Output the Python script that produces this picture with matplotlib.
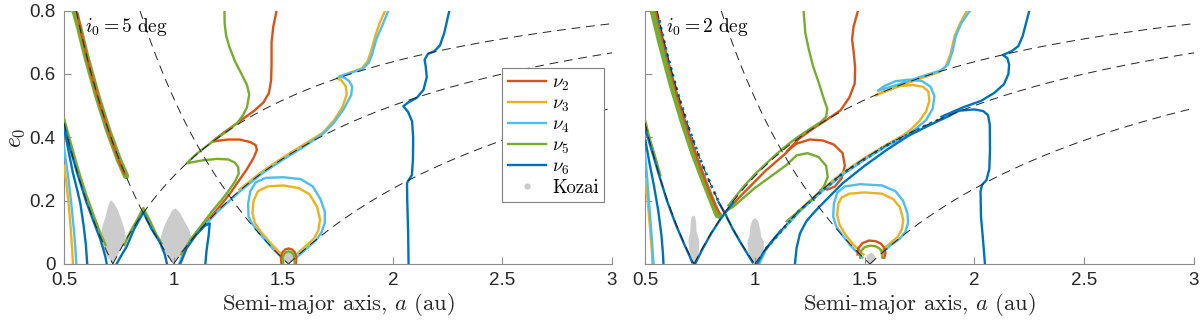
import numpy as np
import matplotlib.pyplot as plt
from matplotlib.lines import Line2D

plt.rcParams['font.family'] = ['Liberation Sans', 'DejaVu Sans']
plt.rcParams['mathtext.fontset'] = 'cm'

# planet semi-major axes (au): Venus, Earth, Mars
planets_a = [0.723, 1.0, 1.524]

# ---------------- i0 = 5 deg (left panel) ----------------
# Kozai regions (outline of the grey point clouds)
koz5_venus = ([0.723, 0.74, 0.76, 0.783, 0.776, 0.762, 0.746, 0.73, 0.714, 0.70, 0.69, 0.676, 0.664, 0.68, 0.70],
              [0.0, 0.02, 0.05, 0.08, 0.11, 0.14, 0.17, 0.19, 0.202, 0.18, 0.15, 0.12, 0.08, 0.05, 0.02])
koz5_earth = ([1.0, 1.03, 1.06, 1.082, 1.07, 1.05, 1.03, 1.01, 0.995, 0.975, 0.955, 0.938, 0.95, 0.97],
              [0.0, 0.025, 0.055, 0.082, 0.11, 0.135, 0.16, 0.176, 0.17, 0.145, 0.115, 0.076, 0.05, 0.025])
koz5_mars = ([1.524, 1.545, 1.55, 1.54, 1.525, 1.51, 1.505, 1.51],
             [0.0, 0.01, 0.025, 0.035, 0.038, 0.033, 0.02, 0.008])

nu2_5_band = ([0.562, 0.58, 0.62, 0.67, 0.72, 0.76, 0.776], [0.79, 0.725, 0.61, 0.49, 0.385, 0.31, 0.285])
nu2_5_main = ([1.04, 1.10, 1.16, 1.22, 1.26, 1.30, 1.335, 1.365, 1.38, 1.375, 1.35, 1.30, 1.25, 1.20, 1.175,
               1.22, 1.27, 1.32, 1.37, 1.41, 1.435, 1.445, 1.447, 1.447, 1.455, 1.47],
              [0.038, 0.09, 0.14, 0.19, 0.225, 0.265, 0.30, 0.335, 0.36, 0.375, 0.385, 0.393, 0.393, 0.389, 0.386,
               0.41, 0.435, 0.46, 0.485, 0.51, 0.54, 0.58, 0.63, 0.70, 0.75, 0.80])
nu2_5_cap = ([1.492, 1.49, 1.497, 1.51, 1.525, 1.54, 1.553, 1.56, 1.558], [0.0, 0.02, 0.037, 0.046, 0.049, 0.046, 0.037, 0.02, 0.0])

nu3_5_left = ([0.5, 0.51, 0.52, 0.53, 0.537, 0.541], [0.31, 0.26, 0.20, 0.12, 0.05, 0.0])
nu3_5_main = ([1.30, 1.40, 1.50, 1.60, 1.68, 1.73, 1.77, 1.79, 1.785, 1.765, 1.745, 1.80, 1.86, 1.885, 1.90, 1.92, 1.94, 1.965],
              [0.235, 0.29, 0.337, 0.38, 0.414, 0.452, 0.495, 0.535, 0.562, 0.58, 0.587, 0.603, 0.618, 0.64, 0.67, 0.72, 0.76, 0.80])
nu3_5_loop = ([1.50, 1.45, 1.40, 1.37, 1.36, 1.365, 1.385, 1.43, 1.50, 1.57, 1.62, 1.655, 1.668, 1.66, 1.64, 1.60, 1.56],
              [0.025, 0.06, 0.10, 0.13, 0.16, 0.20, 0.23, 0.245, 0.248, 0.24, 0.22, 0.18, 0.14, 0.105, 0.08, 0.055, 0.03])

nu4_5_left = ([0.5, 0.51, 0.52, 0.532, 0.545, 0.552, 0.556], [0.37, 0.32, 0.27, 0.20, 0.11, 0.05, 0.0])
nu4_5_main = ([1.025, 1.05, 1.10, 1.20, 1.30, 1.40, 1.50, 1.60, 1.68, 1.73, 1.775, 1.81, 1.815, 1.80, 1.78, 1.755,
               1.80, 1.86, 1.89, 1.905, 1.925, 1.95, 1.98],
              [0.0, 0.045, 0.09, 0.165, 0.228, 0.284, 0.33, 0.373, 0.41, 0.445, 0.488, 0.533, 0.56, 0.578, 0.588, 0.592,
               0.602, 0.615, 0.635, 0.66, 0.71, 0.75, 0.80])
nu4_5_loop = ([1.50, 1.45, 1.40, 1.36, 1.342, 1.34, 1.35, 1.375, 1.42, 1.50, 1.58, 1.635, 1.67, 1.69, 1.69, 1.675, 1.65, 1.60, 1.56],
              [0.015, 0.05, 0.09, 0.125, 0.15, 0.19, 0.23, 0.258, 0.272, 0.274, 0.268, 0.245, 0.205, 0.165, 0.13, 0.10, 0.075, 0.045, 0.02])

nu5_5_band = ([0.548, 0.57, 0.60, 0.65, 0.70, 0.75, 0.783], [0.80, 0.745, 0.66, 0.535, 0.425, 0.33, 0.278])
nu5_5_venus = ([0.5, 0.53, 0.56, 0.60, 0.64, 0.67, 0.69], [0.46, 0.385, 0.31, 0.222, 0.145, 0.09, 0.06])
nu5_5_peak = ([0.775, 0.80, 0.83, 0.862, 0.89, 0.92, 0.945], [0.06, 0.098, 0.135, 0.177, 0.14, 0.095, 0.065])
nu5_5_main = ([1.035, 1.08, 1.13, 1.18, 1.22, 1.255, 1.28, 1.297, 1.295, 1.28, 1.25, 1.20, 1.13, 1.06,
               1.10, 1.15, 1.20, 1.25, 1.29, 1.315, 1.335, 1.345, 1.335, 1.31, 1.28, 1.255, 1.24, 1.233, 1.232],
              [0.03, 0.08, 0.125, 0.17, 0.203, 0.235, 0.26, 0.285, 0.305, 0.32, 0.33, 0.332, 0.327, 0.318,
               0.345, 0.372, 0.398, 0.422, 0.445, 0.468, 0.495, 0.535, 0.565, 0.60, 0.64, 0.685, 0.72, 0.76, 0.80])
nu5_5_cap = ([1.50, 1.498, 1.505, 1.515, 1.525, 1.535, 1.547, 1.552, 1.552], [0.0, 0.02, 0.032, 0.038, 0.04, 0.038, 0.03, 0.018, 0.0])

nu6_5_steep = ([0.503, 0.52, 0.54, 0.56, 0.575, 0.59, 0.60, 0.606], [0.42, 0.36, 0.29, 0.235, 0.19, 0.12, 0.06, 0.0])
nu6_5_venus = ([0.5, 0.53, 0.56, 0.60, 0.64, 0.665, 0.68, 0.69, 0.695], [0.44, 0.36, 0.288, 0.2, 0.125, 0.08, 0.045, 0.02, 0.0])
nu6_5_peak = ([0.74, 0.76, 0.786, 0.82, 0.862, 0.90, 0.938, 0.96, 0.97], [0.0, 0.025, 0.055, 0.11, 0.163, 0.11, 0.068, 0.03, 0.0])
nu6_5_bump = ([1.03, 1.06, 1.10, 1.14, 1.165, 1.16, 1.15, 1.145], [0.0, 0.05, 0.09, 0.12, 0.128, 0.09, 0.04, 0.0])
nu6_5_right = ([2.072, 2.07, 2.066, 2.065, 2.075, 2.087, 2.092, 2.093, 2.088, 2.07, 2.048, 2.07, 2.11, 2.14, 2.155,
                2.15, 2.145, 2.16, 2.19, 2.215, 2.235, 2.258],
               [0.0, 0.1, 0.2, 0.255, 0.268, 0.28, 0.33, 0.40, 0.45, 0.48, 0.498, 0.51, 0.525, 0.55, 0.59,
                0.625, 0.645, 0.663, 0.672, 0.69, 0.73, 0.80])

# ---------------- i0 = 2 deg (right panel) ----------------
koz2_venus = ([0.723, 0.74, 0.747, 0.745, 0.735, 0.733, 0.728, 0.72, 0.712, 0.708, 0.706, 0.698, 0.70, 0.71],
              [0.0, 0.02, 0.05, 0.08, 0.10, 0.13, 0.15, 0.153, 0.148, 0.13, 0.10, 0.08, 0.05, 0.02])
koz2_earth = ([1.0, 1.02, 1.04, 1.042, 1.03, 1.024, 1.015, 1.003, 0.99, 0.98, 0.976, 0.966, 0.97, 0.985],
              [0.0, 0.02, 0.045, 0.07, 0.085, 0.11, 0.135, 0.145, 0.14, 0.12, 0.09, 0.07, 0.04, 0.015])
koz2_mars = ([1.53, 1.548, 1.55, 1.54, 1.53, 1.515, 1.508, 1.515], [0.0, 0.01, 0.022, 0.032, 0.035, 0.03, 0.018, 0.006])

nu2_2_band = ([0.55, 0.60, 0.65, 0.70, 0.75, 0.79, 0.82, 0.84], [0.80, 0.655, 0.525, 0.41, 0.31, 0.235, 0.185, 0.16])
nu2_2_low = ([0.88, 0.95, 1.0, 1.05, 1.10, 1.145], [0.175, 0.225, 0.26, 0.295, 0.325, 0.352])
nu2_2_main = ([1.33, 1.365, 1.395, 1.41, 1.40, 1.36, 1.31, 1.25, 1.19, 1.145, 1.20, 1.26, 1.32, 1.39, 1.43, 1.455,
               1.457, 1.45, 1.443, 1.45, 1.47],
              [0.235, 0.245, 0.27, 0.31, 0.35, 0.377, 0.39, 0.393, 0.38, 0.355, 0.395, 0.425, 0.452, 0.485, 0.525, 0.57,
               0.62, 0.67, 0.71, 0.75, 0.80])
nu2_2_cap = ([1.468, 1.472, 1.49, 1.52, 1.55, 1.575, 1.59, 1.595, 1.59], [0.03, 0.05, 0.066, 0.074, 0.072, 0.064, 0.05, 0.035, 0.02])

nu3_2_left = ([0.5, 0.512, 0.522, 0.53, 0.534], [0.27, 0.2, 0.12, 0.05, 0.0])
nu3_2_main = ([1.30, 1.40, 1.50, 1.60, 1.665, 1.71, 1.75, 1.78, 1.795, 1.79, 1.765, 1.72, 1.66, 1.61, 1.57, 1.55,
               1.65, 1.75, 1.84, 1.87, 1.89, 1.91, 1.935, 1.966],
              [0.233, 0.288, 0.335, 0.377, 0.402, 0.424, 0.452, 0.482, 0.515, 0.545, 0.56, 0.565, 0.562, 0.55, 0.54, 0.532,
               0.56, 0.585, 0.606, 0.625, 0.66, 0.72, 0.76, 0.80])
nu3_2_loop = ([1.495, 1.45, 1.41, 1.385, 1.375, 1.38, 1.395, 1.43, 1.50, 1.58, 1.63, 1.66, 1.676, 1.67, 1.65, 1.61, 1.575],
              [0.03, 0.06, 0.095, 0.125, 0.155, 0.19, 0.21, 0.222, 0.226, 0.222, 0.205, 0.18, 0.14, 0.11, 0.085, 0.062, 0.04])

nu4_2_left = ([0.5, 0.51, 0.52, 0.53, 0.536, 0.539], [0.35, 0.27, 0.18, 0.09, 0.03, 0.0])
nu4_2_main = ([1.02, 1.05, 1.10, 1.20, 1.30, 1.40, 1.50, 1.60, 1.68, 1.73, 1.78, 1.81, 1.818, 1.80, 1.76, 1.70, 1.64,
               1.59, 1.56, 1.65, 1.75, 1.85, 1.88, 1.90, 1.915, 1.94, 1.98],
              [0.0, 0.045, 0.088, 0.163, 0.226, 0.282, 0.33, 0.372, 0.402, 0.425, 0.455, 0.49, 0.53, 0.56, 0.578, 0.582, 0.577,
               0.562, 0.547, 0.566, 0.59, 0.612, 0.63, 0.67, 0.72, 0.76, 0.80])
nu4_2_loop = ([1.49, 1.44, 1.40, 1.37, 1.357, 1.36, 1.375, 1.41, 1.48, 1.58, 1.64, 1.675, 1.695, 1.698, 1.685, 1.66, 1.62, 1.58],
              [0.02, 0.055, 0.09, 0.12, 0.15, 0.19, 0.225, 0.245, 0.252, 0.248, 0.23, 0.20, 0.16, 0.13, 0.10, 0.08, 0.06, 0.035])

nu5_2_band = ([0.535, 0.57, 0.62, 0.67, 0.72, 0.77, 0.81, 0.83, 0.84], [0.80, 0.70, 0.57, 0.455, 0.35, 0.26, 0.19, 0.155, 0.152])
nu5_2_venus = ([0.5, 0.52, 0.55, 0.57], [0.455, 0.40, 0.33, 0.28])
nu5_2_upper = ([0.88, 0.95, 1.0, 1.05, 1.10, 1.15, 1.20, 1.25, 1.30, 1.325, 1.33, 1.315, 1.29, 1.265, 1.245, 1.23, 1.222],
               [0.185, 0.245, 0.283, 0.316, 0.348, 0.377, 0.403, 0.426, 0.448, 0.465, 0.49, 0.52, 0.575, 0.625, 0.68, 0.73, 0.80])
nu5_2_lower = ([0.875, 0.90, 0.95, 1.0, 1.05, 1.10, 1.145, 1.19, 1.24, 1.29, 1.325, 1.332, 1.315, 1.29, 1.26, 1.22, 1.18, 1.145],
               [0.17, 0.18, 0.21, 0.24, 0.265, 0.29, 0.313, 0.343, 0.35, 0.338, 0.31, 0.275, 0.245, 0.225, 0.205, 0.18, 0.155, 0.135])
nu5_2_cap = ([1.48, 1.482, 1.50, 1.525, 1.55, 1.57, 1.582, 1.58], [0.02, 0.04, 0.053, 0.058, 0.056, 0.048, 0.035, 0.02])

nu6_2_steep = ([0.502, 0.52, 0.54, 0.56, 0.575, 0.582, 0.584], [0.39, 0.32, 0.25, 0.17, 0.09, 0.03, 0.0])
nu6_2_venus = ([0.5, 0.53, 0.56, 0.60, 0.64, 0.68, 0.70, 0.715], [0.43, 0.36, 0.29, 0.2, 0.125, 0.06, 0.03, 0.005])
nu6_2_x1 = ([0.728, 0.76, 0.80, 0.84, 0.862, 0.88, 0.90], [0.0, 0.045, 0.095, 0.138, 0.159, 0.175, 0.193])
nu6_2_x2 = ([0.835, 0.862, 0.90, 0.94, 0.97, 0.99], [0.195, 0.163, 0.11, 0.062, 0.028, 0.005])
nu6_2_earth = ([1.01, 1.04, 1.08, 1.12], [0.0, 0.038, 0.074, 0.107])
nu6_2_low = ([1.183, 1.19, 1.206, 1.235, 1.266, 1.30, 1.35, 1.40, 1.50, 1.60, 1.70, 1.80, 1.88, 1.93, 2.0, 2.04, 2.062,
              2.07, 2.071, 2.068, 2.055, 2.035, 2.028, 2.03, 2.04, 2.048],
             [0.0, 0.05, 0.097, 0.135, 0.16, 0.185, 0.22, 0.255, 0.31, 0.36, 0.405, 0.44, 0.466, 0.484, 0.488, 0.483, 0.47,
              0.44, 0.36, 0.30, 0.265, 0.25, 0.23, 0.15, 0.07, 0.0])
nu6_2_upper = ([1.85, 1.95, 2.03, 2.09, 2.135, 2.155, 2.158, 2.15, 2.13, 2.17, 2.2, 2.22, 2.235, 2.25],
               [0.465, 0.495, 0.515, 0.54, 0.568, 0.6, 0.63, 0.65, 0.66, 0.672, 0.688, 0.72, 0.76, 0.80])
nu6_2_dots_band = ([0.565, 0.60, 0.65, 0.70, 0.75, 0.80, 0.835], [0.77, 0.665, 0.538, 0.428, 0.333, 0.25, 0.197])
nu6_2_dots_earth = ([1.05, 1.2, 1.4, 1.6, 1.8, 1.9], [0.048, 0.167, 0.286, 0.375, 0.444, 0.474])

c_nu2 = '#D95319'
c_nu3 = '#EDB120'
c_nu4 = '#4DBEEE'
c_nu5 = '#77AC30'
c_nu6 = '#0072BD'
c_koz = '#cccccc'
axcol = '#8c8c8c'
txtcol = '#262626'

panels = [
    dict(title=r'$i_0 = 5\ \mathrm{deg}$', kozai=[koz5_venus, koz5_earth, koz5_mars],
         thick=[(nu5_5_band, c_nu5, 4.5)],
         lines=[(nu2_5_band, c_nu2), (nu2_5_main, c_nu2), (nu3_5_left, c_nu3), (nu3_5_main, c_nu3),
                (nu3_5_loop, c_nu3), (nu4_5_left, c_nu4), (nu4_5_main, c_nu4), (nu4_5_loop, c_nu4),
                (nu5_5_venus, c_nu5), (nu5_5_peak, c_nu5), (nu5_5_main, c_nu5),
                (nu6_5_steep, c_nu6), (nu6_5_venus, c_nu6), (nu6_5_peak, c_nu6), (nu6_5_bump, c_nu6),
                (nu6_5_right, c_nu6), (nu2_5_cap, c_nu2), (nu5_5_cap, c_nu5)],
         dotted=[]),
    dict(title=r'$i_0 = 2\ \mathrm{deg}$', kozai=[koz2_venus, koz2_earth, koz2_mars],
         thick=[(nu5_2_band, c_nu5, 4.5)],
         lines=[(nu2_2_band, c_nu2), (nu2_2_low, c_nu2), (nu2_2_main, c_nu2), (nu3_2_left, c_nu3),
                (nu3_2_main, c_nu3), (nu3_2_loop, c_nu3), (nu4_2_left, c_nu4), (nu4_2_main, c_nu4),
                (nu4_2_loop, c_nu4), (nu5_2_venus, c_nu5), (nu5_2_upper, c_nu5), (nu5_2_lower, c_nu5),
                (nu6_2_steep, c_nu6), (nu6_2_venus, c_nu6), (nu6_2_x1, c_nu6), (nu6_2_x2, c_nu6),
                (nu6_2_earth, c_nu6), (nu6_2_low, c_nu6), (nu6_2_upper, c_nu6),
                (nu2_2_cap, c_nu2), (nu5_2_cap, c_nu5)],
         dotted=[(nu6_2_dots_band, c_nu6), (nu6_2_dots_earth, c_nu6)]),
]

fig = plt.figure(figsize=(12, 3.24), dpi=100)
axes = [fig.add_axes([0.0533, 0.1852, 0.4567, 0.782]), fig.add_axes([0.5375, 0.1852, 0.4575, 0.782])]

for ax, p in zip(axes, panels):
    for k in p['kozai']:
        ax.fill(k[0], k[1], color=c_koz, lw=0, zorder=1)
    for (xy, col, lw) in p['thick']:
        ax.plot(xy[0], xy[1], color=col, lw=lw, solid_capstyle='round', zorder=2)
    for (xy, col) in p['lines']:
        ax.plot(xy[0], xy[1], color=col, lw=1.7, zorder=3)
    for (xy, col) in p['dotted']:
        ax.plot(xy[0], xy[1], color=col, lw=2, ls=(0, (1, 1.5)), zorder=3)
    # orbit-crossing curves: aphelion / perihelion equal to a planet's orbit
    for ap in planets_a:
        a_in = np.linspace(max(0.5, ap / 1.8), ap, 200)
        ax.plot(a_in, ap / a_in - 1, color='#222222', lw=0.7, dashes=(9, 6), zorder=4)
        a_out = np.linspace(ap, 3, 300)
        ax.plot(a_out, 1 - ap / a_out, color='#222222', lw=0.7, dashes=(9, 6), zorder=4)
    ax.set_xlim(0.5, 3)
    ax.set_ylim(0, 0.8)
    ax.set_xticks([0.5, 1, 1.5, 2, 2.5, 3])
    ax.set_xticklabels(['0.5', '1', '1.5', '2', '2.5', '3'])
    ax.set_yticks([0, 0.2, 0.4, 0.6, 0.8])
    for s in ['top', 'right']:
        ax.spines[s].set_visible(False)
    for s in ['left', 'bottom']:
        ax.spines[s].set_color(axcol)
        ax.spines[s].set_linewidth(0.8)
    ax.tick_params(direction='in', length=5, width=0.8, color=axcol, labelcolor=txtcol, labelsize=13.5, pad=6)
    ax.set_xlabel(r'Semi-major axis, $a$ (au)', fontfamily='cmr10', fontsize=16.3, color=txtcol, labelpad=1)
    ax.text(0.038, 0.935, p['title'], transform=ax.transAxes, fontsize=14, va='center', ha='left', zorder=6)

axes[0].set_yticklabels(['0', '0.2', '0.4', '0.6', '0.8'])
axes[1].set_yticklabels([])
axes[0].set_ylabel(r'$e_0$', fontsize=17, color=txtcol, labelpad=2)

handles = [Line2D([], [], color=c_nu2, lw=1.7, label=r'$\nu_2$'),
           Line2D([], [], color=c_nu3, lw=1.7, label=r'$\nu_3$'),
           Line2D([], [], color=c_nu4, lw=1.7, label=r'$\nu_4$'),
           Line2D([], [], color=c_nu5, lw=1.7, label=r'$\nu_5$'),
           Line2D([], [], color=c_nu6, lw=1.7, label=r'$\nu_6$'),
           Line2D([], [], color=c_koz, marker='o', ms=3.5, ls='none', label='Kozai')]
leg = axes[0].legend(handles=handles, loc='upper left', bbox_to_anchor=(0.80, 0.772), fancybox=False,
                     edgecolor='#808080', framealpha=1, prop={'family': 'cmr10', 'size': 13.5},
                     handlelength=2.0, handletextpad=0.35, labelspacing=0.1, borderpad=0.3, borderaxespad=0)
leg.get_frame().set_linewidth(0.8)

fig.savefig('out.png', dpi=100)
